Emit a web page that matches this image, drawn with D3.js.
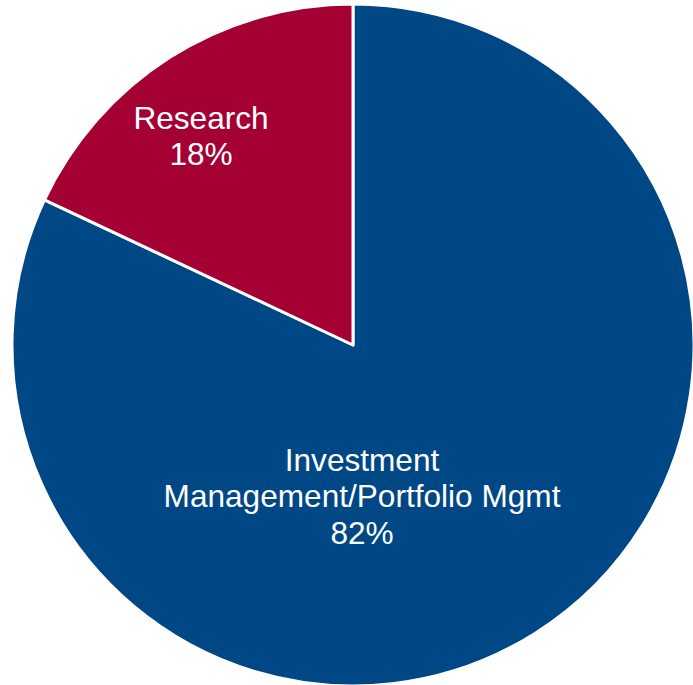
<!DOCTYPE html>
<html>
<head>
<meta charset="utf-8">
<script src="https://cdn.jsdelivr.net/npm/d3@7"></script>
<style>
html,body{margin:0;padding:0;background:#fff;}
svg{display:block;}
</style>
</head>
<body>
<svg id="chart" width="693" height="685"></svg>
<script>
const categories = ["Investment Management/Portfolio Mgmt", "Research"];
const values = [82, 18];
const labelLines = [["Investment", "Management/Portfolio Mgmt", "82%"], ["Research", "18%"]];
const colors = ["#004785", "#A50034"];

const svg = d3.select("#chart");
const cx = 353, cy = 345, r = 341;
const g = svg.append("g").attr("transform", `translate(${cx},${cy})`);

const pie = d3.pie().sort(null).value(d => d.value);
const data = categories.map((c, i) => ({ cat: c, value: values[i], lines: labelLines[i], color: colors[i] }));
const arcs = pie(data);
const arc = d3.arc().innerRadius(0).outerRadius(r);

g.selectAll("path").data(arcs).enter().append("path")
  .attr("d", arc)
  .attr("fill", d => d.data.color)
  .attr("stroke", "#fff")
  .attr("stroke-width", 3)
  .attr("stroke-linejoin", "round");

// label anchor (first baseline) offsets from the pie centre (layout)
const labelPos = [[9, 125.7], [-152, -216.3]];
const lineH = 36.4;
arcs.forEach((a, i) => {
  const [lx, ly] = labelPos[i];
  const t = g.append("text")
    .attr("text-anchor", "middle")
    .attr("fill", "#fff")
    .style("font-family", "'Liberation Sans', Arial, sans-serif")
    .style("font-size", "31.6px");
  a.data.lines.forEach((ln, j) => {
    t.append("tspan")
      .attr("x", lx)
      .attr("y", ly + j * lineH)
      .text(ln);
  });
});
</script>
</body>
</html>
